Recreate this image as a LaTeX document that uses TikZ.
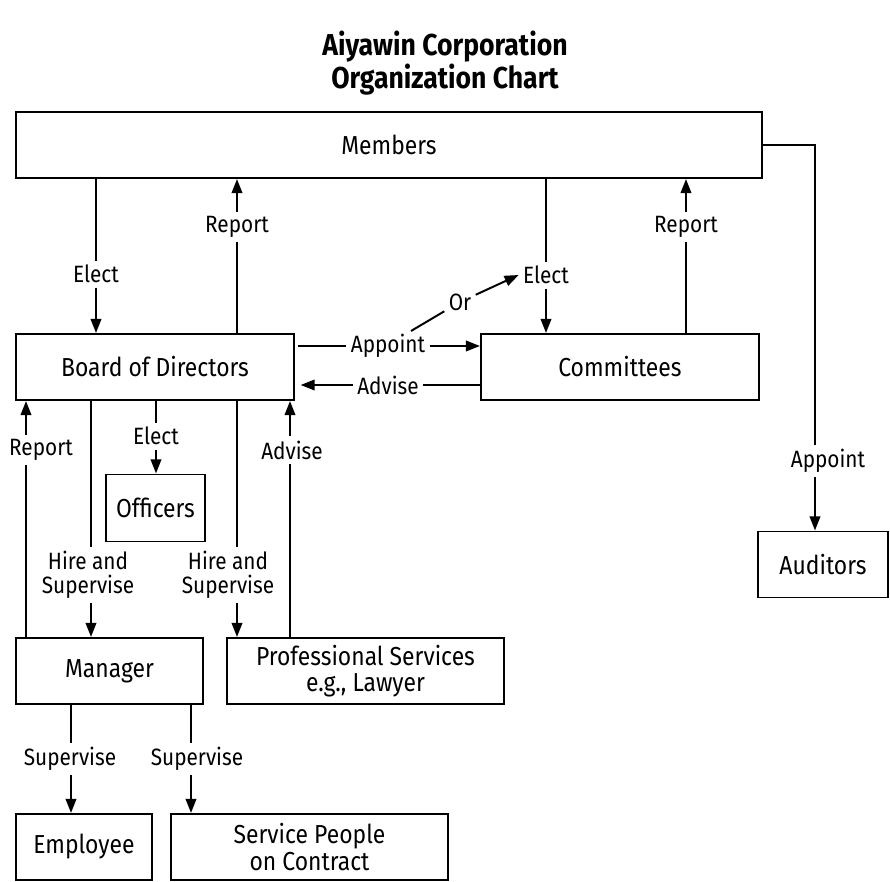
\documentclass[tikz,border=0pt]{standalone}
\usepackage{fontspec}
\setmainfont{Fira Sans}[FakeStretch=0.88]
\usepackage{tikz}
\usetikzlibrary{arrows.meta, positioning, calc}
\tikzset{
    % Boxes of the chart
    orgbox/.style={rectangle, draw=black, line width=1.4pt, minimum height=1.65cm,
                  align=center, inner sep=2pt, font=\fontsize{18.5}{19}\selectfont},
    % Connector labels
    conlbl/.style={align=center, inner sep=3pt, font=\fontsize{16.8}{17.2}\selectfont},
    orgline/.style={line width=1.4pt},
    orgarrow/.style={-{Triangle[length=10pt, width=7.5pt]}, line width=1.4pt},
}

\begin{document}
\begin{tikzpicture}[x=0.025cm, y=-0.025cm]
\useasboundingbox (0,0) rectangle (890,882);

\node[font=\fontsize{21.5}{21.5}\selectfont\bfseries, align=center] (title) at (445,63)
    {Aiyawin Corporation\\Organization Chart};

% Boxes
\node[orgbox, minimum width=18.65cm] (members)  at (389,145)   {Members};
\node[orgbox, minimum width=6.95cm]  (board)    at (155,367)   {Board of Directors};
\node[orgbox, minimum width=6.95cm]  (comm)     at (620,367)   {Committees};
\node[orgbox, minimum width=2.475cm, minimum height=1.675cm] (officers) at (155.5,508) {Officers};
\node[orgbox, minimum width=4.675cm] (manager)  at (109.5,671) {Manager};
\node[orgbox, minimum width=6.925cm] (prof)     at (365.5,671) {Professional Services\\e.g., Lawyer};
\node[orgbox, minimum width=3.4cm]   (employee) at (84,847)    {Employee};
\node[orgbox, minimum width=6.925cm] (service)  at (309.5,847) {Service People\\on Contract};
\node[orgbox, minimum width=3.25cm]  (auditors) at (823,564.5) {Auditors};

% Labels
\node[conlbl] (elA)   at (96,274)   {Elect};
\node[conlbl] (repA)  at (237,227)  {Report};
\node[conlbl] (elB)   at (546,275)  {Elect};
\node[conlbl] (repB)  at (686,227)  {Report};
\node[conlbl] (or)    at (460,302)  {Or};
\node[conlbl] (app)   at (388,346)  {Appoint};
\node[conlbl] (adv)   at (388,385)  {Advise};
\node[conlbl] (elC)   at (156,436)  {Elect};
\node[conlbl] (repC)  at (41,450)   {Report};
\node[conlbl] (advC)  at (292,450)  {Advise};
\node[conlbl] (hsA)   at (88,575)   {Hire and\\Supervise};
\node[conlbl] (hsB)   at (228,575)  {Hire and\\Supervise};
\node[conlbl] (supA)  at (70,759)   {Supervise};
\node[conlbl] (supB)  at (197,759)  {Supervise};
\node[conlbl] (appD)  at (828,461)  {Appoint};

% Line positions
\coordinate (orFoot) at (411,331);
\coordinate (cRepC)  at (26,0);
\coordinate (cAdvC)  at (290,0);
\coordinate (cHsA)   at (91,0);
\coordinate (cHsB)   at (237,0);
\coordinate (cSupA)  at (71,0);
\coordinate (cSupB)  at (191,0);
\coordinate (cAud)   at (815,0);

% Members and board
\draw[orgline]  (members.south -| elA) -- (elA.north);
\draw[orgarrow] (elA.south) -- (board.north -| elA);
\draw[orgline]  (board.north -| repA) -- (repA.south);
\draw[orgarrow] (repA.north) -- (members.south -| repA);

% Members and committees
\draw[orgline]  (members.south -| elB) -- (elB.north);
\draw[orgarrow] (elB.south) -- (comm.north -| elB);
\draw[orgline]  (comm.north -| repB) -- (repB.south);
\draw[orgarrow] (repB.north) -- (members.south -| repB);

% Board and committees
\draw[orgline]  ([xshift=2pt]board.east |- app) -- (app.west);
\draw[orgarrow] (app.east) -- (comm.west |- app);
\draw[orgline]  (comm.west |- adv) -- (adv.east);
\draw[orgarrow] (adv.west) -- ([xshift=4pt]board.east |- adv);
\draw[orgline]  (orFoot) -- (or);
\draw[orgarrow] (or) -- (elB.west);

% Members and auditors
\draw[orgline]  (members.east) -| (cAud |- appD.north);
\draw[orgarrow] (cAud |- appD.south) -- (auditors.north -| cAud);

% Board and below
\draw[orgline]  (board.south -| elC) -- (elC.north);
\draw[orgarrow] (elC.south) -- (officers.north -| elC);
\draw[orgline]  (manager.north -| cRepC) -- (cRepC |- repC.south);
\draw[orgarrow] (cRepC |- repC.north) -- (board.south -| cRepC);
\draw[orgline]  (prof.north -| cAdvC) -- (cAdvC |- advC.south);
\draw[orgarrow] (cAdvC |- advC.north) -- (board.south -| cAdvC);
\draw[orgline]  (board.south -| cHsA) -- (cHsA |- hsA.north);
\draw[orgarrow] (cHsA |- hsA.south) -- (manager.north -| cHsA);
\draw[orgline]  (board.south -| cHsB) -- (cHsB |- hsB.north);
\draw[orgarrow] (cHsB |- hsB.south) -- (prof.north -| cHsB);

% Manager and below
\draw[orgline]  (manager.south -| cSupA) -- (cSupA |- supA.north);
\draw[orgarrow] (cSupA |- supA.south) -- (employee.north -| cSupA);
\draw[orgline]  (manager.south -| cSupB) -- (cSupB |- supB.north);
\draw[orgarrow] (cSupB |- supB.south) -- (service.north -| cSupB);
\end{tikzpicture}
\end{document}
